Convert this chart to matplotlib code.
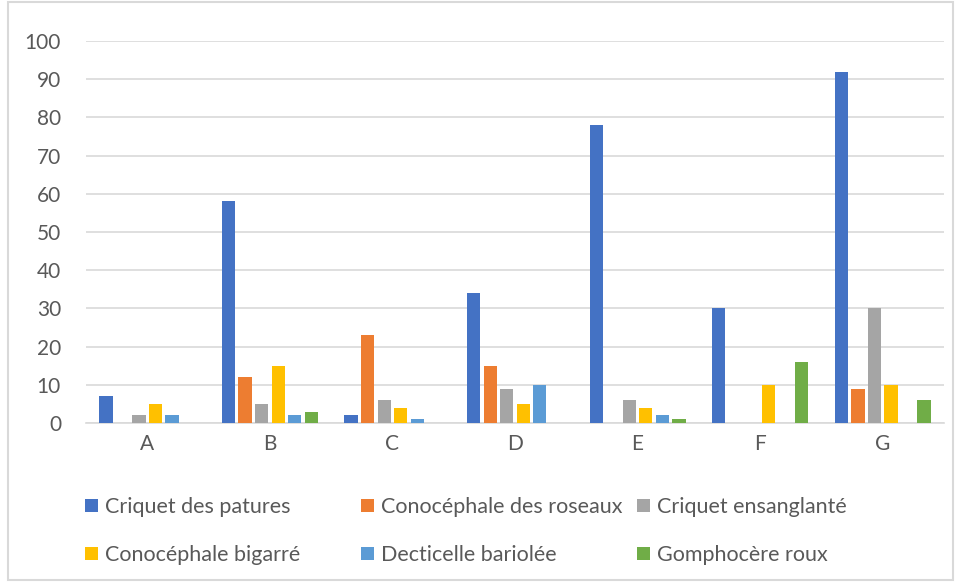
import numpy as np
import matplotlib.pyplot as plt
from matplotlib.patches import Rectangle

# station labels and counts per species
sites = ['A', 'B', 'C', 'D', 'E', 'F', 'G']
species = ['Criquet des patures', 'Conocéphale des roseaux', 'Criquet ensanglanté',
           'Conocéphale bigarré', 'Decticelle bariolée', 'Gomphocère roux']
criquet_patures = [7, 58, 2, 34, 78, 30, 92]
conocephale_roseaux = [0, 12, 23, 15, 0, 0, 9]
criquet_ensanglante = [2, 5, 6, 9, 6, 0, 30]
conocephale_bigarre = [5, 15, 4, 5, 4, 10, 10]
decticelle_bariolee = [2, 2, 1, 10, 2, 0, 0]
gomphocere_roux = [0, 3, 0, 0, 1, 16, 6]
yticks = [0, 10, 20, 30, 40, 50, 60, 70, 80, 90, 100]

series = [criquet_patures, conocephale_roseaux, criquet_ensanglante,
          conocephale_bigarre, decticelle_bariolee, gomphocere_roux]
colors = ['#4472C4', '#ED7D31', '#A5A5A5', '#FFC000', '#5B9BD5', '#70AD47']

plt.rcParams['font.family'] = ['Lato', 'DejaVu Sans']

fig = plt.figure(figsize=(9.57, 5.82), dpi=100)
ax = fig.add_axes([86/957, (582-423)/582, (944-86)/957, (423-41)/582])

x = np.arange(len(sites))
step = 0.135
width = 0.108
handles = []
for i, (vals, col) in enumerate(zip(series, colors)):
    b = ax.bar(x + (i - 2.5) * step, vals, width, color=col, label=species[i], zorder=3)
    handles.append(b)

ax.set_xlim(-0.5, len(sites) - 0.5)
ax.set_ylim(0, 100)
ax.set_yticks(yticks)
ax.set_xticks(x)
ax.set_xticklabels(sites)
ax.yaxis.grid(True, color='#D9D9D9', linewidth=1.2, zorder=0)
for s in ['top', 'right', 'left']:
    ax.spines[s].set_visible(False)
ax.spines['bottom'].set_color('#D9D9D9')
ax.spines['bottom'].set_linewidth(1.2)
ax.tick_params(axis='both', length=0, labelsize=15, colors='#595959', pad=8)
ax.tick_params(axis='y', pad=18)

# legend: three columns, two rows, one legend per column at fixed x
col_x = [85, 361, 637]
for c in range(3):
    idx = [c, c + 3]
    leg = fig.legend([handles[k] for k in idx], [species[k] for k in idx],
                     loc='upper left', bbox_to_anchor=(col_x[c]/957, 1 - 497/582),
                     frameon=False, fontsize=15.5, handlelength=0.6, handleheight=0.6,
                     handletextpad=0.35, labelspacing=1.3, borderaxespad=0,
                     borderpad=0)
    for t in leg.get_texts():
        t.set_color('#595959')

fig.patches.append(Rectangle((8/957, 2/582), 945/957, 578/582, transform=fig.transFigure,
                             fill=False, edgecolor='#D9D9D9', linewidth=1.5))

fig.savefig('out.png', dpi=100)
